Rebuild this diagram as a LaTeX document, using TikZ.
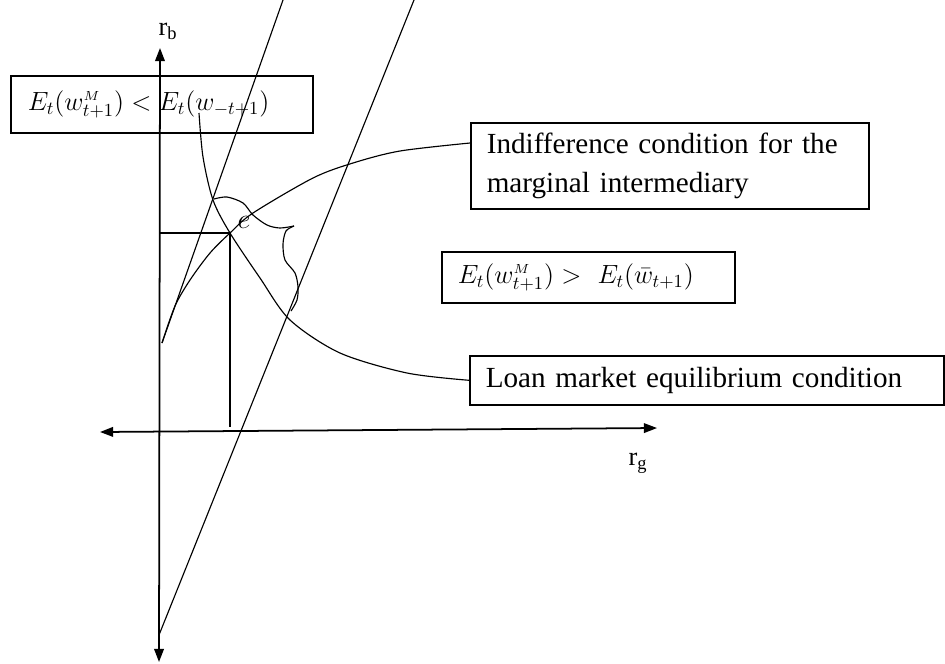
\RequirePackage{fix-cm}
\documentclass[tikz,border=0pt]{standalone}
\usepackage{amsmath,amssymb}
\usepackage{fontspec}
\setmainfont{Liberation Serif}
\usetikzlibrary{arrows.meta}

\tikzset{
  condbox/.style={draw,line width=0.9pt,inner xsep=0.32cm,align=left,anchor=north west,font=\fontsize{16.6}{22}\selectfont},
  mathbox/.style={condbox,font=\fontsize{15}{18}\selectfont},
  thinline/.style={line width=0.65pt},
}

\begin{document}
\begin{tikzpicture}[>={Triangle[length=7.5pt,width=5.5pt]},x=0.02cm,y=-0.02cm]
    \useasboundingbox (0,0) rectangle (945,663);
    % axes
    \coordinate (ytop) at (160,48);
    \coordinate (ybot) at (159,662);
    \coordinate (xleft) at (100,432);
    \coordinate (xright) at (657,428);
    \draw[<->,line width=1pt] (ybot) -- (ytop);
    \draw[<->,line width=1pt] (xleft) -- (xright);
    \node[font=\fontsize{15}{17}\selectfont] (rb) at (168,31) {r\textsubscript{b}};
    \node[font=\fontsize{15}{17}\selectfont] (rg) at (638,463) {r\textsubscript{g}};
    % boxes
    \node[mathbox,inner xsep=0.34cm,text width=5.36cm,minimum height=1.14cm] (lower) at (10,75)
      {$E_t(w^{\scriptscriptstyle M}_{t+1}) < E_t(w_{-t+1})$};
    \node[condbox,text width=7.32cm,minimum height=1.72cm] (indiff) at (470,122)
      {Indifference condition for the\\ marginal intermediary};
    \node[mathbox,text width=5.22cm,minimum height=1.02cm] (higher) at (441,251)
      {$E_t(w^{\scriptscriptstyle M}_{t+1}) > \ E_t(\bar{w}_{t+1})$};
    \node[condbox,text width=8.84cm,minimum height=0.98cm] (loan) at (469,355)
      {Loan market equilibrium condition};
    % straight lines
    \coordinate (lfoot) at (162,343);
    \coordinate (ltop) at (283,0);
    \coordinate (rfoot) at (159,635);
    \coordinate (rtop) at (414,0);
    \draw[thinline] (lfoot) -- (ltop);
    \draw[thinline] (rfoot) -- (rtop);
    % equilibrium point
    \coordinate (e) at (230,233);
    \coordinate (efoot) at (230,427);
    \node[font=\fontsize{16}{18}\selectfont] (elabel) at (244,222) {$e$};
    \draw[thinline] (e) -- (e -| ytop);
    \draw[thinline] (e) -- (efoot);
    % indifference condition
    \coordinate (indend) at (470,143);
    \draw[thinline] plot[smooth] coordinates {(lfoot) (175,306) (190,280) (210,253) (e)
      (253,213) (313,178) (353,163) (400,151) (indend)};
    % loan market equilibrium
    \coordinate (loantop) at (199,113);
    \draw[thinline] plot[smooth] coordinates {(loantop) (203,157) (213,200) (e)
      (260,278) (290,320) (340,353) (407,373) (loan.west)};
    % brace
    \draw[thinline] plot[smooth] coordinates {(214,199) (227,197) (243,203) (253,215)
      (267,225) (280,228) (294,226)};
    \draw[thinline] plot[smooth] coordinates {(294,226) (286,231) (283,244) (285,260)
      (295,273) (298,287) (297,300) (291,311)};
\end{tikzpicture}
\end{document}
